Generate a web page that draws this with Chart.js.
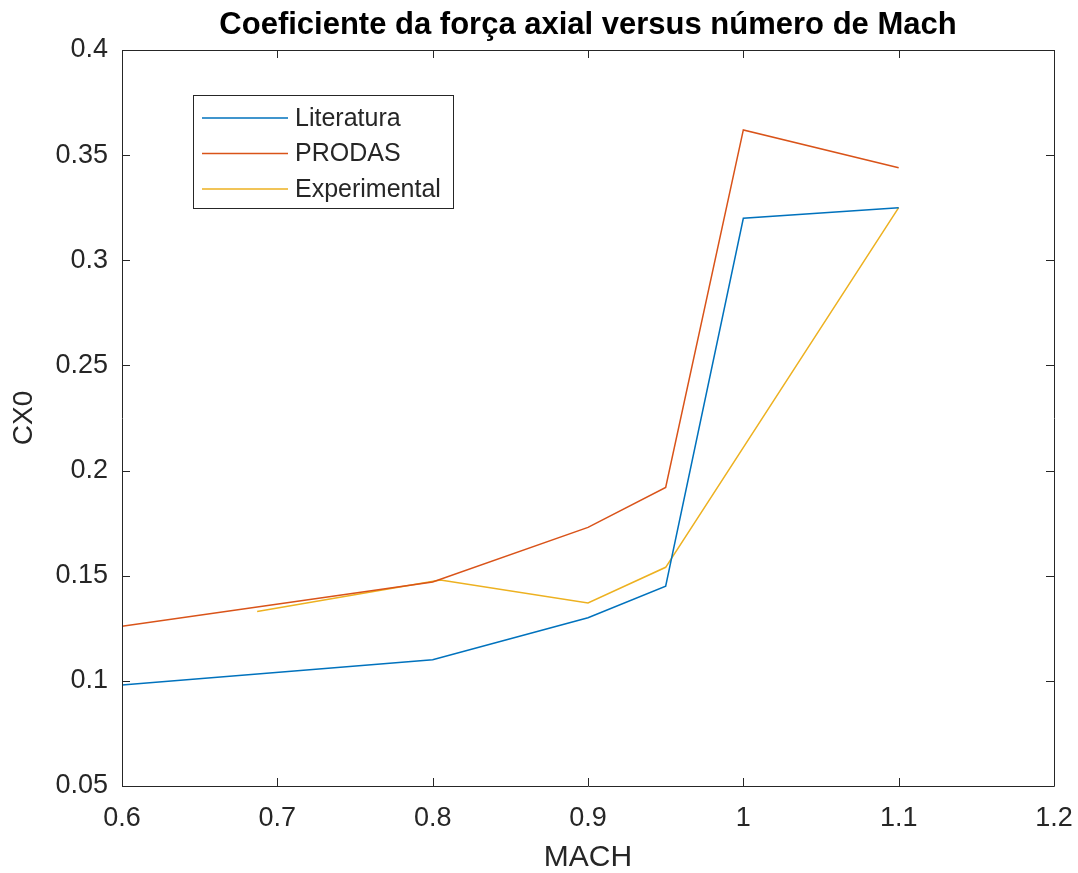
<!DOCTYPE html>
<html>
<head>
<meta charset="utf-8">
<script src="https://cdn.jsdelivr.net/npm/chart.js@4/dist/chart.umd.min.js"></script>
<style>
html,body{margin:0;padding:0;background:#fff;}
#wrap{width:1078px;height:873px;}
</style>
</head>
<body>
<div id="wrap"><canvas id="c" width="1078" height="873"></canvas></div>
<script>
const titleText = 'Coeficiente da força axial versus número de Mach';
const xLabel = 'MACH';
const yLabel = 'CX0';

const litX = [0.6, 0.8, 0.9, 0.95, 1.0, 1.1];
const litY = [0.098, 0.110, 0.130, 0.145, 0.320, 0.325];

const prodX = [0.6, 0.8, 0.9, 0.95, 1.0, 1.1];
const prodY = [0.126, 0.147, 0.173, 0.192, 0.362, 0.344];

const expX = [0.687, 0.805, 0.9, 0.95, 1.1];
const expY = [0.133, 0.148, 0.137, 0.154, 0.325];

const seriesNames = ['Literatura', 'PRODAS', 'Experimental'];
const seriesColors = ['#0072BD', '#D95319', '#EDB120'];

function pts(xs, ys){ return xs.map((x,i)=>({x:x, y:ys[i]})); }

const FONT = "'Liberation Sans', Arial, Helvetica, sans-serif";
const INK = '#262626';

const boxPlugin = {
  id: 'matlabBox',
  afterDraw(chart){
    const ctx = chart.ctx, a = chart.chartArea;
    const xs = chart.scales.x, ys = chart.scales.y;
    ctx.save();
    ctx.strokeStyle = INK;
    ctx.lineWidth = 1;
    ctx.beginPath();
    ctx.rect(Math.round(a.left)+0.5, Math.round(a.top)+0.5, Math.round(a.right-a.left), Math.round(a.bottom-a.top));
    ctx.stroke();
    const L = 8;
    ctx.beginPath();
    xs.ticks.forEach(t=>{
      const px = Math.round(xs.getPixelForValue(t.value))+0.5;
      ctx.moveTo(px, a.bottom); ctx.lineTo(px, a.bottom-L);
      ctx.moveTo(px, a.top); ctx.lineTo(px, a.top+L);
    });
    ys.ticks.forEach(t=>{
      const py = Math.round(ys.getPixelForValue(t.value))+0.5;
      ctx.moveTo(a.left, py); ctx.lineTo(a.left+L, py);
      ctx.moveTo(a.right, py); ctx.lineTo(a.right-L, py);
    });
    ctx.stroke();
    // legend
    const lx = 193.5, ly = 95.5, lw = 260, lh = 113;
    ctx.fillStyle = '#fff';
    ctx.fillRect(lx, ly, lw, lh);
    ctx.strokeRect(lx, ly, lw, lh);
    ctx.font = "25px " + FONT;
    ctx.textBaseline = 'middle';
    ctx.textAlign = 'left';
    chart.data.datasets.forEach((ds, i)=>{
      const y = 118 + i*35.5;
      ctx.strokeStyle = ds.borderColor;
      ctx.lineWidth = 1.5;
      ctx.beginPath(); ctx.moveTo(202, y); ctx.lineTo(288, y); ctx.stroke();
      ctx.fillStyle = INK;
      ctx.fillText(ds.label, 295, y+1);
    });
    ctx.restore();
  }
};

new Chart(document.getElementById('c'), {
  type: 'scatter',
  data: {
    datasets: [
      {label: seriesNames[0], data: pts(litX, litY), borderColor: seriesColors[0]},
      {label: seriesNames[1], data: pts(prodX, prodY), borderColor: seriesColors[1]},
      {label: seriesNames[2], data: pts(expX, expY), borderColor: seriesColors[2]}
    ].map(d=>Object.assign(d, {showLine:true, borderWidth:1.5, pointRadius:0, pointHoverRadius:0, tension:0, fill:false, backgroundColor:d.borderColor}))
  },
  options: {
    responsive: false,
    animation: false,
    layout: {padding: {left: 0, right: 24, top: 0, bottom: 0}},
    plugins: {
      legend: {display: false},
      tooltip: {enabled: false},
      title: {
        display: true, text: titleText, color: '#000', fullSize: false,
        font: {family: FONT, size: 31, weight: 'bold', lineHeight: 1.2},
        padding: {top: 7, bottom: 5.8}
      }
    },
    scales: {
      x: {
        type: 'linear', min: 0.6, max: 1.2,
        ticks: {stepSize: 0.1, color: INK, font: {family: FONT, size: 27}, padding: 8, maxRotation: 0,
          callback: v => String(Math.round(v*10)/10)},
        grid: {display: false},
        border: {display: false},
        title: {display: true, text: xLabel, color: INK, font: {family: FONT, size: 30, lineHeight: 1}, padding: {top: 0, bottom: 0}},
        afterFit(s){ s.height = 87; s.paddingLeft = 0; s.paddingRight = 0; }
      },
      y: {
        type: 'linear', min: 0.05, max: 0.4,
        ticks: {stepSize: 0.05, color: INK, font: {family: FONT, size: 27}, padding: 6,
          callback: v => String(Math.round(v*100)/100)},
        grid: {display: false},
        border: {display: false},
        title: {display: true, text: yLabel, color: INK, font: {family: FONT, size: 28, lineHeight: 1}, padding: {top: 10, bottom: 0}},
        afterFit(s){ s.width = 122; s.paddingTop = 0; s.paddingBottom = 0; }
      }
    }
  },
  plugins: [boxPlugin]
});
</script>
</body>
</html>
